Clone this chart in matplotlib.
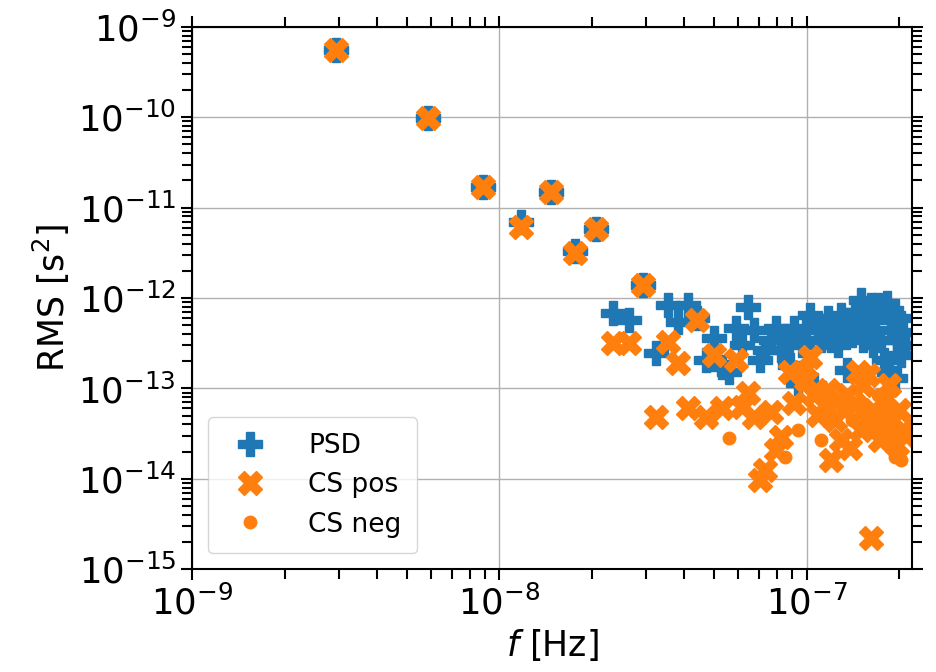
import numpy as np
import matplotlib
matplotlib.use("Agg")
import matplotlib.pyplot as plt

# frequencies in nHz
freq_nhz = [2.94, 5.88, 8.82, 11.76, 14.70, 17.64, 20.58, 23.52, 26.46, 29.40,
            32.34, 35.28, 38.22, 41.16, 44.10, 47.04, 49.98, 52.92, 55.86, 58.80,
            61.74, 64.68, 67.62, 70.56, 73.50, 76.44, 79.38, 82.32, 85.26, 88.20,
            91.14, 94.08, 97.02, 99.96, 102.90, 105.84, 108.78, 111.72, 114.66, 117.60,
            120.54, 123.48, 126.42, 129.36, 132.30, 135.24, 138.18, 141.12, 144.06, 147.00,
            149.94, 152.88, 155.82, 158.76, 161.70, 164.64, 167.58, 170.52, 173.46, 176.40,
            179.34, 182.28, 185.22, 188.16, 191.10, 194.04, 196.98, 199.92, 202.86, 205.80,
            208.74]

psd = [5.56e-10, 9.8e-11, 1.69e-11, 6.93e-12, 1.49e-11, 3.31e-12, 5.80e-12, 6.81e-13, 5.69e-13, 1.39e-12,
       2.45e-13, 8.35e-13, 5.41e-13, 8.35e-13, 5.99e-13, 2.05e-13, 3.60e-13, 1.72e-13, 1.51e-13, 4.64e-13,
       3.01e-13, 7.93e-13, 4.41e-13, 2.05e-13, 2.65e-13, 3.42e-13, 4.64e-13, 2.65e-13, 3.42e-13, 1.81e-13,
       4.64e-13, 1.14e-13, 3.01e-13, 4.41e-13, 6.47e-13, 1.08e-13, 5.01e-13, 3.42e-13, 4.41e-13, 5.99e-13,
       3.42e-13, 5.01e-13, 3.01e-13, 6.47e-13, 4.41e-13, 1.59e-13, 5.69e-13, 3.88e-13, 6.98e-13, 5.01e-13,
       9.48e-13, 3.42e-13, 5.99e-13, 4.41e-13, 8.35e-13, 3.01e-13, 5.69e-13, 8.35e-13, 3.42e-13, 7.34e-13,
       2.05e-13, 8.79e-13, 1.51e-13, 4.41e-13, 6.47e-13, 1.30e-13, 3.42e-13, 5.99e-13, 2.33e-13, 4.19e-13,
       3.01e-13]

# cross spectrum (sign indicates positive / negative)
cs = [5.56e-10, 9.8e-11, 1.69e-11, 6.1e-12, 1.49e-11, 3.14e-12, 5.80e-12, 3.17e-13, 3.17e-13, 1.39e-12,
      4.80e-14, 3.25e-13, 1.90e-13, 6.04e-14, 5.69e-13, 4.80e-14, 2.33e-13, 6.04e-14, -2.81e-14, 2.05e-13,
      6.19e-14, 8.85e-14, 4.80e-14, 9.62e-15, 1.24e-14, 5.45e-14, 2.07e-14, 2.88e-14, -1.73e-14, 1.51e-13,
      6.86e-14, -3.44e-14, 1.51e-13, 1.23e-13, 2.22e-13, 8.41e-14, 5.05e-14, -2.67e-14, 6.52e-14, 9.55e-14,
      1.60e-14, 4.45e-14, 7.40e-14, 2.67e-14, 5.74e-14, 8.41e-14, 2.18e-14, -4.45e-14, 6.52e-14, 1.51e-13,
      3.44e-14, 1.08e-13, 4.45e-14, 1.40e-13, 2.19e-15, 5.74e-14, 3.72e-14, -8.41e-14, 2.67e-14, 5.05e-14,
      7.40e-14, 3.44e-14, 1.08e-13, -6.19e-14, 4.45e-14, -1.73e-14, 2.35e-14, 5.74e-14, -1.60e-14, 3.44e-14,
      3.03e-14]

f = np.array(freq_nhz) * 1e-9
psd = np.array(psd)
cs = np.array(cs)
pos = cs > 0
neg = cs < 0

fig = plt.figure(figsize=(9.37, 6.72), dpi=100)
ax = fig.add_axes([0.205, 0.153, 0.768, 0.807])

ax.plot(f, psd, 'P', color='#1f77b4', ms=17, ls='none', label='PSD')
ax.plot(f[pos], cs[pos], 'X', color='#ff7f0e', ms=17, ls='none', label='CS pos')
ax.plot(f[neg], -cs[neg], 'o', color='#ff7f0e', ms=9, ls='none', label='CS neg')

ax.set_xscale('log')
ax.set_yscale('log')
ax.set_xlim(1e-9, 2.2e-7)
ax.set_ylim(1e-15, 1e-9)
ax.grid(True, which='major', color='#b0b0b0', lw=1)
ax.set_axisbelow(True)

ax.tick_params(which='both', direction='out', top=True, right=True,
               labelsize=25.5, width=1.5)
ax.tick_params(which='major', length=8)
ax.tick_params(which='minor', length=7)
for s in ax.spines.values():
    s.set_linewidth(1.5)

ax.set_xlabel(r'$f$ [Hz]', fontsize=25)
ax.set_ylabel(r'RMS [s$^2$]', fontsize=25)

ax.legend(loc='lower left', fontsize=19, borderpad=0.6, labelspacing=0.5,
          handletextpad=1.2, borderaxespad=0.6)

fig.savefig('out.png', dpi=100)
